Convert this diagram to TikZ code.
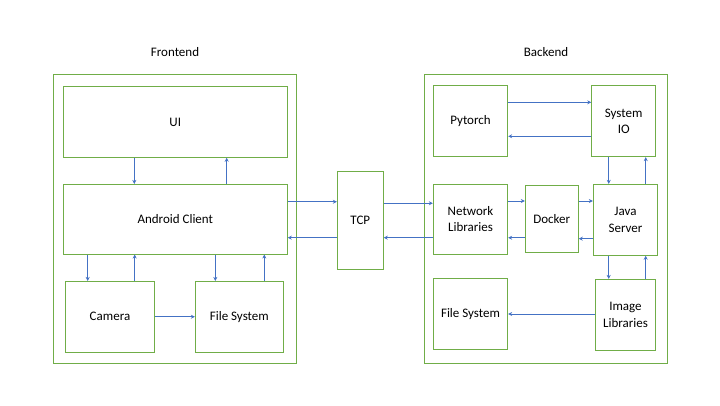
\documentclass[tikz,border=0pt]{standalone}
\usepackage{fontspec}
\setmainfont{Carlito}
\usetikzlibrary{arrows.meta}
\definecolor{bgreen}{HTML}{70AD47}
\definecolor{ablue}{HTML}{4472C4}
\begin{document}
\begin{tikzpicture}[x=1pt,y=-1pt,
  font=\fontsize{13}{16.5}\selectfont,
  box/.style={draw=bgreen,line width=0.9pt,inner sep=0pt,align=center},
  arr/.style={draw=ablue,line width=0.9pt,-{Stealth[length=4pt,width=4pt]}},
  title/.style={inner sep=0pt}]
\useasboundingbox (0,0) rectangle (720,405);
% frontend
\node[box,minimum width=243.4,minimum height=289] (FE) at (175,218.8) {};
\node[title] (FEt) at (175,52.5) {Frontend};
\node[box,minimum width=224,minimum height=70.6] (UI) at (175.3,122) {UI};
\node[box,minimum width=224,minimum height=69.7] (AC) at (175.3,219.2) {Android Client};
\node[box,minimum width=88.6,minimum height=70.7] (Cam) at (110,316.7) {Camera};
\node[box,minimum width=88,minimum height=70.7] (FS1) at (239.3,316.7) {File System};
% tcp
\node[box,minimum width=46,minimum height=97.6] (TCP) at (360.3,220.5) {TCP};
% backend
\node[box,minimum width=243.4,minimum height=289] (BE) at (546,218.8) {};
\node[title] (BEt) at (546,52.5) {Backend};
\node[box,minimum width=74.4,minimum height=71] (PT) at (470.5,121.2) {Pytorch};
\node[box,minimum width=64,minimum height=71] (SIO) at (623.7,121.2) {System\\IO};
\node[box,minimum width=74.4,minimum height=69.7] (NL) at (470.5,219.2) {Network\\Libraries};
\node[box,minimum width=53,minimum height=66.6] (DK) at (551.8,219) {Docker};
\node[box,minimum width=64.4,minimum height=71] (JS) at (625.5,219.8) {Java\\Server};
\node[box,minimum width=74.4,minimum height=71] (FS2) at (470.5,313.8) {File System};
\node[box,minimum width=60.4,minimum height=70.7] (IL) at (625.5,314.7) {Image\\Libraries};
% frontend arrows
\draw[arr] ([xshift=-41pt]UI.south) -- ([xshift=-41pt]UI.south |- AC.north);
\draw[arr] ([xshift=51.4pt]AC.north) -- ([xshift=51.4pt]AC.north |- UI.south);
\draw[arr] ([xshift=-87.6pt]AC.south) -- ([xshift=-87.6pt]AC.south |- Cam.north);
\draw[arr] ([xshift=24.7pt]Cam.north) -- ([xshift=24.7pt]Cam.north |- AC.south);
\draw[arr] ([xshift=40pt]AC.south) -- ([xshift=40pt]AC.south |- FS1.north);
\draw[arr] ([xshift=25pt]FS1.north) -- ([xshift=25pt]FS1.north |- AC.south);
\draw[arr] (Cam.east) -- (Cam.east -| FS1.west);
% tcp arrows
\draw[arr] ([yshift=17.5pt]AC.east) -- ([yshift=17.5pt]AC.east -| TCP.west);
\draw[arr] ([yshift=-17.2pt]TCP.west) -- ([yshift=-17.2pt]TCP.west -| AC.east);
\draw[arr] ([yshift=17.2pt]TCP.east) -- ([yshift=17.2pt]TCP.east -| NL.west);
\draw[arr] ([yshift=-18.5pt]NL.west) -- ([yshift=-18.5pt]NL.west -| TCP.east);
% backend arrows
\draw[arr] ([yshift=18.2pt]NL.east) -- ([yshift=18.2pt]NL.east -| DK.west);
\draw[arr] ([yshift=-18.7pt]DK.west) -- ([yshift=-18.7pt]DK.west -| NL.east);
\draw[arr] ([yshift=18pt]DK.east) -- ([yshift=18pt]DK.east -| JS.west);
\draw[arr] ([yshift=-18.9pt]JS.west) -- ([yshift=-18.9pt]JS.west -| DK.east);
\draw[arr] ([yshift=18.9pt]PT.east) -- ([yshift=18.9pt]PT.east -| SIO.west);
\draw[arr] ([yshift=-15.1pt]SIO.west) -- ([yshift=-15.1pt]SIO.west -| PT.east);
\draw[arr] ([xshift=-15pt]SIO.south) -- ([xshift=-15pt]SIO.south |- JS.north);
\draw[arr] ([xshift=20.2pt]JS.north) -- ([xshift=20.2pt]JS.north |- SIO.south);
\draw[arr] ([xshift=-16.8pt]JS.south) -- ([xshift=-16.8pt]JS.south |- IL.north);
\draw[arr] ([xshift=20.2pt]IL.north) -- ([xshift=20.2pt]IL.north |- JS.south);
\draw[arr] ([yshift=0.7pt]IL.west) -- ([yshift=0.7pt]IL.west -| FS2.east);
\end{tikzpicture}
\end{document}
